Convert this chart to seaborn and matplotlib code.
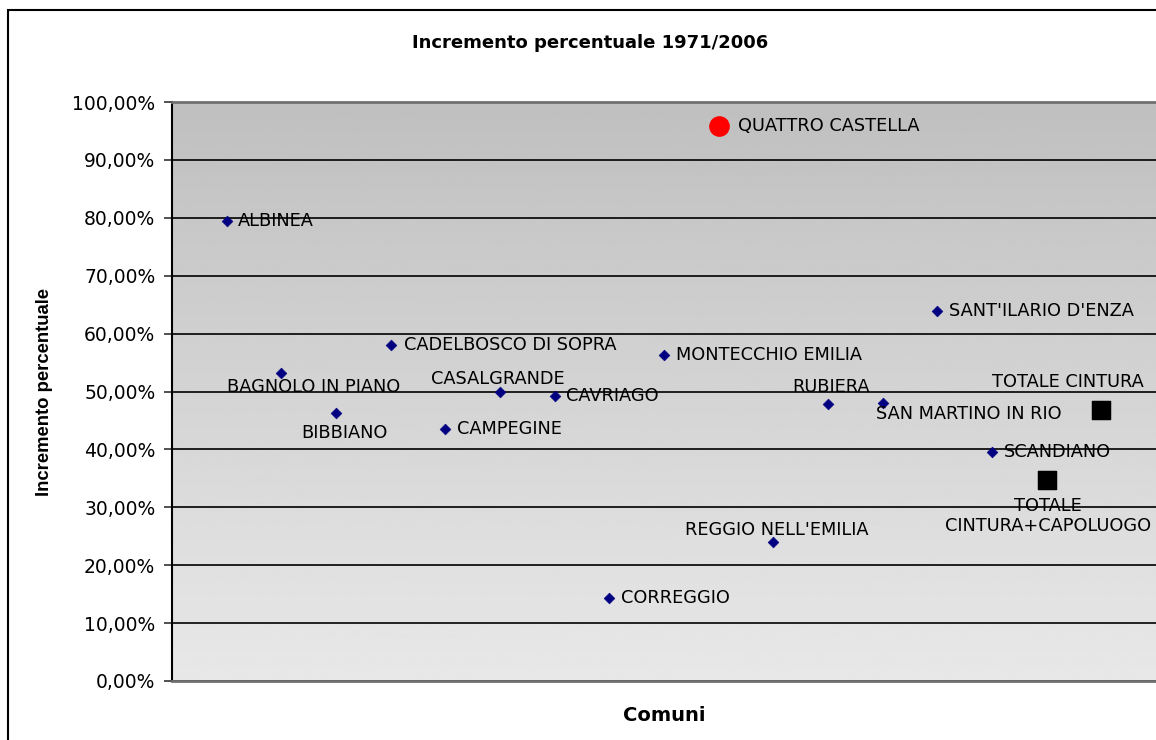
import numpy as np
import pandas as pd
import matplotlib
matplotlib.use("Agg")
import matplotlib.pyplot as plt
from matplotlib.patches import Rectangle
from matplotlib.ticker import FuncFormatter, MultipleLocator
import seaborn as sns

# --- data ---
comuni = ["ALBINEA", "BAGNOLO IN PIANO", "BIBBIANO", "CADELBOSCO DI SOPRA",
          "CAMPEGINE", "CASALGRANDE", "CAVRIAGO", "CORREGGIO",
          "MONTECCHIO EMILIA", "QUATTRO CASTELLA", "REGGIO NELL'EMILIA",
          "RUBIERA", "SAN MARTINO IN RIO", "SANT'ILARIO D'ENZA", "SCANDIANO",
          "TOTALE\nCINTURA+CAPOLUOGO", "TOTALE CINTURA"]
incremento = [79.4, 53.2, 46.3, 58.0, 43.5, 49.9, 49.2, 14.3, 56.3, 95.9,
              24.0, 47.8, 48.0, 63.9, 39.6, 34.7, 46.8]
gruppo = ["comune"] * 9 + ["max"] + ["comune"] * 5 + ["totale", "totale"]

df = pd.DataFrame({"comune": comuni, "incremento": incremento, "gruppo": gruppo})
df["pos"] = np.arange(1, len(df) + 1)

# label placement (pixel offsets from marker, ha)
label_offsets = {
    "ALBINEA": (11, 0, "left"),
    "BAGNOLO IN PIANO": (32, -14, "center"),
    "BIBBIANO": (8, -20, "center"),
    "CADELBOSCO DI SOPRA": (13, 0, "left"),
    "CAMPEGINE": (12, 0, "left"),
    "CASALGRANDE": (-2, 13, "center"),
    "CAVRIAGO": (11, 0, "left"),
    "CORREGGIO": (12, 0, "left"),
    "MONTECCHIO EMILIA": (12, 0, "left"),
    "QUATTRO CASTELLA": (19, 0, "left"),
    "REGGIO NELL'EMILIA": (3, 12, "center"),
    "RUBIERA": (3, 17, "center"),
    "SAN MARTINO IN RIO": (86, -11, "center"),
    "SANT'ILARIO D'ENZA": (12, 0, "left"),
    "SCANDIANO": (12, 0, "left"),
    "TOTALE\nCINTURA+CAPOLUOGO": (1, -36, "center"),
    "TOTALE CINTURA": (-33, 28, "center"),
}

sns.set_style("white")
plt.rcParams["font.family"] = ["DejaVu Sans"]
plt.rcParams["text.color"] = "black"
plt.rcParams["axes.labelcolor"] = "black"
plt.rcParams["ytick.color"] = "black"

fig = plt.figure(figsize=(11.56, 7.4), dpi=100)
ax = fig.add_axes([172 / 1156, 1 - 681 / 740, 1 - 172 / 1156, (681 - 102) / 740])

# gray gradient background of the plot area
grad = np.linspace(0.75, 0.91, 256).reshape(-1, 1)
ax.imshow(grad, cmap="gray", vmin=0, vmax=1, aspect="auto",
          extent=[0, 1, 0, 1], transform=ax.transAxes, zorder=0, origin="upper")

sub = df[df.gruppo == "comune"]
sns.scatterplot(data=sub, x="pos", y="incremento", marker="D", s=30,
                color="#000080", edgecolor="#000080", ax=ax, zorder=3)
sub = df[df.gruppo == "max"]
sns.scatterplot(data=sub, x="pos", y="incremento", marker="o", s=190,
                color="#ff0000", edgecolor="#ff0000", ax=ax, zorder=3)
sub = df[df.gruppo == "totale"]
sns.scatterplot(data=sub, x="pos", y="incremento", marker="s", s=175,
                color="black", edgecolor="black", ax=ax, zorder=3)

for _, r in df.iterrows():
    dx, dy, ha = label_offsets[r.comune]
    ax.annotate(r.comune, (r.pos, r.incremento), xytext=(dx, dy),
                textcoords="offset pixels", ha=ha, va="center",
                fontsize=12.8, color="black", linespacing=1.2, zorder=4)

ax.set_xlim(0, 18)
ax.set_ylim(0, 100)
ax.yaxis.set_major_locator(MultipleLocator(10))
ax.yaxis.set_major_formatter(FuncFormatter(lambda v, p: f"{v:.2f}%".replace(".", ",")))
ax.set_xticks([])
ax.grid(axis="y", color="black", lw=1.2, zorder=1)
ax.set_axisbelow(True)
ax.tick_params(axis="y", length=6, width=1.2, color="#333333", labelsize=13.5,
               labelcolor="black", pad=6, left=True)

ax.spines["top"].set_color("#707070")
ax.spines["top"].set_linewidth(2)
ax.spines["bottom"].set_color("#707070")
ax.spines["bottom"].set_linewidth(2)
ax.spines["left"].set_color("black")
ax.spines["left"].set_linewidth(1.5)
ax.spines["right"].set_visible(False)

ax.set_xlabel("Comuni", fontsize=14, fontweight="bold", labelpad=18)
ax.set_ylabel("Incremento percentuale", fontsize=13.3, fontweight="bold",
              family=["Liberation Sans", "DejaVu Sans"], labelpad=14)
fig.text(590 / 1156, 1 - 43 / 740, "Incremento percentuale 1971/2006",
         ha="center", va="center", fontsize=13, fontweight="bold")

# outer chart border
fig.patches.append(Rectangle((8 / 1156, -0.2), 1.2, 1.2 - 10 / 740,
                             transform=fig.transFigure, fill=False,
                             edgecolor="black", lw=1.5, zorder=10))

fig.savefig("out.png", dpi=100)
